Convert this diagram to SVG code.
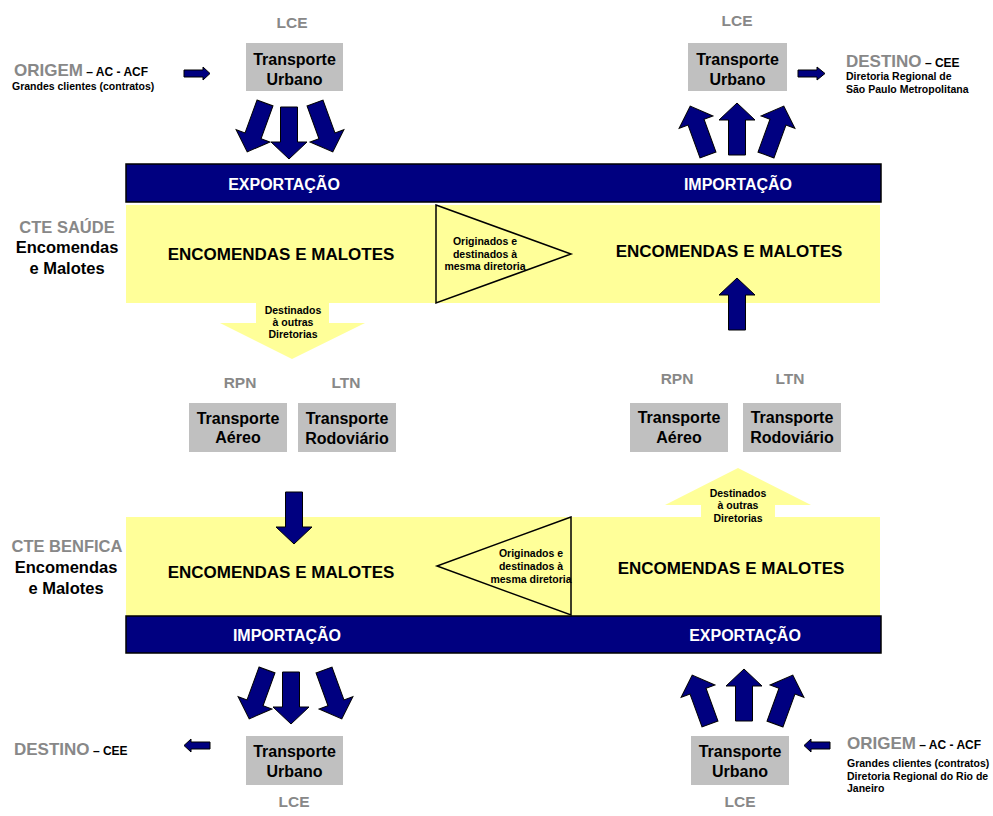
<svg xmlns="http://www.w3.org/2000/svg" xmlns:xlink="http://www.w3.org/1999/xlink" width="993" height="816" viewBox="0 0 993 816">
  <style>
    text { font-family: "Liberation Sans", Arial, sans-serif; font-weight: bold; }
    .box { fill: #c0c0c0; }
    .box-t { font-size: 16px; fill: #000; text-anchor: middle; }
    .code { font-size: 15.5px; fill: #888888; text-anchor: middle; }
    .bar { fill: #000080; stroke: #000; stroke-width: 1.5; }
    .bar-t { font-size: 16px; fill: #fff; text-anchor: middle; }
    .band { fill: #ffff99; }
    .band-t { font-size: 17px; fill: #000; text-anchor: middle; }
    .tri { fill: none; stroke: #000; stroke-width: 1.5; stroke-linejoin: miter; }
    .small { font-size: 10.5px; fill: #000; }
    .small-c { font-size: 10.5px; fill: #000; text-anchor: middle; }
    .head { font-size: 17px; fill: #888888; }
    .sub { font-size: 12px; fill: #000; }
    .cte { font-size: 16.5px; fill: #888888; text-anchor: middle; }
    .cte-b { font-size: 16.5px; fill: #000; text-anchor: middle; }
    .navy { fill: #000080; stroke: #000; stroke-width: 1; stroke-linejoin: miter; }
    .pale { fill: #ffff99; }
  </style>
  <defs>
    <!-- block arrow, origin at tail centre, pointing down -->
    <path id="bigArrow" d="M-8.5,0 L8.5,0 L8.5,35 L18,35 L0,52 L-18,35 L-8.5,35 Z"/>
  </defs>

  <!-- Top left: origin and urban transport -->
  <g id="origem-top">
    <text x="14" y="76"><tspan class="head">ORIGEM</tspan><tspan class="sub"> – AC - ACF</tspan></text>
    <text class="small" x="12" y="90">Grandes clientes (contratos)</text>
  </g>
  <g id="lce-top-left">
    <text class="code" x="292" y="28">LCE</text>
    <rect class="box" x="246" y="43" width="97" height="48"/>
    <text class="box-t" x="294.5" y="65">Transporte</text>
    <text class="box-t" x="294.5" y="85">Urbano</text>
  </g>

  <!-- Top right: urban transport and destination -->
  <g id="lce-top-right">
    <text class="code" x="737" y="26">LCE</text>
    <rect class="box" x="688" y="43" width="99" height="48"/>
    <text class="box-t" x="737.5" y="65">Transporte</text>
    <text class="box-t" x="737.5" y="85">Urbano</text>
  </g>
  <g id="destino-top">
    <text x="846" y="67"><tspan class="head">DESTINO</tspan><tspan class="sub"> – CEE</tspan></text>
    <text class="small" x="846" y="80">Diretoria Regional de</text>
    <text class="small" x="846" y="93">São Paulo Metropolitana</text>
  </g>

  <!-- CTE Saúde -->
  <g id="cte-saude">
    <text class="cte" x="67" y="233">CTE SAÚDE</text>
    <text class="cte-b" x="67" y="253">Encomendas</text>
    <text class="cte-b" x="67" y="274">e Malotes</text>
    <rect class="bar" x="126" y="164" width="755" height="38"/>
    <text class="bar-t" x="284" y="190">EXPORTAÇÃO</text>
    <text class="bar-t" x="738" y="190">IMPORTAÇÃO</text>
    <rect class="band" x="126" y="205" width="754" height="98"/>
    <text class="band-t" x="281" y="260">ENCOMENDAS E MALOTES</text>
    <text class="band-t" x="729" y="257">ENCOMENDAS E MALOTES</text>
  </g>
  <g id="saude-interno">
    <polygon class="tri" points="436,205 571,254 436,303"/>
    <text class="small-c" x="485" y="245">Originados e</text>
    <text class="small-c" x="485" y="258">destinados à</text>
    <text class="small-c" x="485" y="270">mesma diretoria</text>
  </g>
  <g id="saude-outras">
    <path class="pale" d="M256,303 L329,303 L329,323 L365,323 L292,359 L220,323 L256,323 Z"/>
    <text class="small-c" x="293" y="314">Destinados</text>
    <text class="small-c" x="293" y="326">à outras</text>
    <text class="small-c" x="293" y="338">Diretorias</text>
  </g>

  <!-- Long-distance transport, left -->
  <g id="rpn-left">
    <text class="code" x="240" y="388">RPN</text>
    <rect class="box" x="189" y="403" width="98" height="49"/>
    <text class="box-t" x="238" y="424">Transporte</text>
    <text class="box-t" x="238" y="443">Aéreo</text>
  </g>
  <g id="ltn-left">
    <text class="code" x="346" y="388">LTN</text>
    <rect class="box" x="298" y="403" width="98" height="49"/>
    <text class="box-t" x="347" y="424">Transporte</text>
    <text class="box-t" x="347" y="444">Rodoviário</text>
  </g>

  <!-- Long-distance transport, right -->
  <g id="rpn-right">
    <text class="code" x="677" y="384">RPN</text>
    <rect class="box" x="630" y="403" width="98" height="49"/>
    <text class="box-t" x="679" y="423">Transporte</text>
    <text class="box-t" x="679" y="443">Aéreo</text>
  </g>
  <g id="ltn-right">
    <text class="code" x="790" y="384">LTN</text>
    <rect class="box" x="743" y="403" width="98" height="49"/>
    <text class="box-t" x="792" y="423">Transporte</text>
    <text class="box-t" x="792" y="443">Rodoviário</text>
  </g>

  <!-- CTE Benfica -->
  <g id="cte-benfica">
    <text class="cte" x="67" y="552">CTE BENFICA</text>
    <text class="cte-b" x="66" y="573">Encomendas</text>
    <text class="cte-b" x="66" y="594">e Malotes</text>
    <rect class="band" x="126" y="517" width="754" height="99"/>
    <text class="band-t" x="281" y="578">ENCOMENDAS E MALOTES</text>
    <text class="band-t" x="731" y="574">ENCOMENDAS E MALOTES</text>
    <rect class="bar" x="126" y="616" width="755" height="37"/>
    <text class="bar-t" x="287" y="641">IMPORTAÇÃO</text>
    <text class="bar-t" x="745" y="641">EXPORTAÇÃO</text>
  </g>
  <g id="benfica-interno">
    <polygon class="tri" points="571,517 437,566 571,615"/>
    <text class="small-c" x="531" y="557">Originados e</text>
    <text class="small-c" x="531" y="570">destinados à</text>
    <text class="small-c" x="531" y="583">mesma diretoria</text>
  </g>
  <g id="benfica-outras">
    <path class="pale" d="M701,517 L701,505 L665,505 L738,468 L811,505 L775,505 L775,517 Z"/>
    <text class="small-c" x="738" y="497">Destinados</text>
    <text class="small-c" x="738" y="509">à outras</text>
    <text class="small-c" x="738" y="522">Diretorias</text>
  </g>

  <!-- Bottom left: urban transport and destination -->
  <g id="lce-bottom-left">
    <rect class="box" x="246" y="736" width="97" height="49"/>
    <text class="box-t" x="294.5" y="757">Transporte</text>
    <text class="box-t" x="294.5" y="777">Urbano</text>
    <text class="code" x="294" y="807">LCE</text>
  </g>
  <g id="destino-bottom">
    <text x="14" y="755"><tspan class="head">DESTINO</tspan><tspan class="sub"> – CEE</tspan></text>
  </g>

  <!-- Bottom right: origin and urban transport -->
  <g id="lce-bottom-right">
    <rect class="box" x="691" y="736" width="98" height="49"/>
    <text class="box-t" x="740" y="757">Transporte</text>
    <text class="box-t" x="740" y="777">Urbano</text>
    <text class="code" x="740" y="807">LCE</text>
  </g>
  <g id="origem-bottom">
    <text x="847" y="749"><tspan class="head">ORIGEM</tspan><tspan class="sub"> – AC - ACF</tspan></text>
    <text class="small" x="847" y="767">Grandes clientes (contratos)</text>
    <text class="small" x="847" y="780">Diretoria Regional do Rio de</text>
    <text class="small" x="847" y="792">Janeiro</text>
  </g>

  <!-- Flow arrows -->
  <g id="connectors">
    <!-- small side arrows -->
    <path class="navy" d="M184,70 L203,70 L203,67 L210,73.5 L203,80 L203,77 L184,77 Z"/>
    <path class="navy" d="M798,70 L817,70 L817,67 L825,73.5 L817,80 L817,77 L798,77 Z"/>
    <path class="navy" d="M210,742 L191,742 L191,739 L184,745.5 L191,752 L191,749 L210,749 Z"/>
    <path class="navy" d="M830,742 L811,742 L811,739 L804,745.5 L811,752 L811,749 L830,749 Z"/>

    <!-- top left: into export -->
    <use xlink:href="#bigArrow" class="navy" transform="translate(265,103) rotate(20)"/>
    <use xlink:href="#bigArrow" class="navy" transform="translate(289,107)"/>
    <use xlink:href="#bigArrow" class="navy" transform="translate(315,103) rotate(-20)"/>

    <!-- top right: out of import -->
    <use xlink:href="#bigArrow" class="navy" transform="translate(708,155) rotate(160)"/>
    <use xlink:href="#bigArrow" class="navy" transform="translate(737,155) rotate(180)"/>
    <use xlink:href="#bigArrow" class="navy" transform="translate(766,155) rotate(200)"/>

    <!-- middle verticals -->
    <use xlink:href="#bigArrow" class="navy" transform="translate(294,492)"/>
    <use xlink:href="#bigArrow" class="navy" transform="translate(737,330) rotate(180)"/>

    <!-- bottom left: out of import -->
    <use xlink:href="#bigArrow" class="navy" transform="translate(267,670) rotate(20)"/>
    <use xlink:href="#bigArrow" class="navy" transform="translate(291,672)"/>
    <use xlink:href="#bigArrow" class="navy" transform="translate(324,670) rotate(-20)"/>

    <!-- bottom right: into export -->
    <use xlink:href="#bigArrow" class="navy" transform="translate(710,724) rotate(160)"/>
    <use xlink:href="#bigArrow" class="navy" transform="translate(744,721) rotate(180)"/>
    <use xlink:href="#bigArrow" class="navy" transform="translate(775,724) rotate(200)"/>
  </g>
</svg>
